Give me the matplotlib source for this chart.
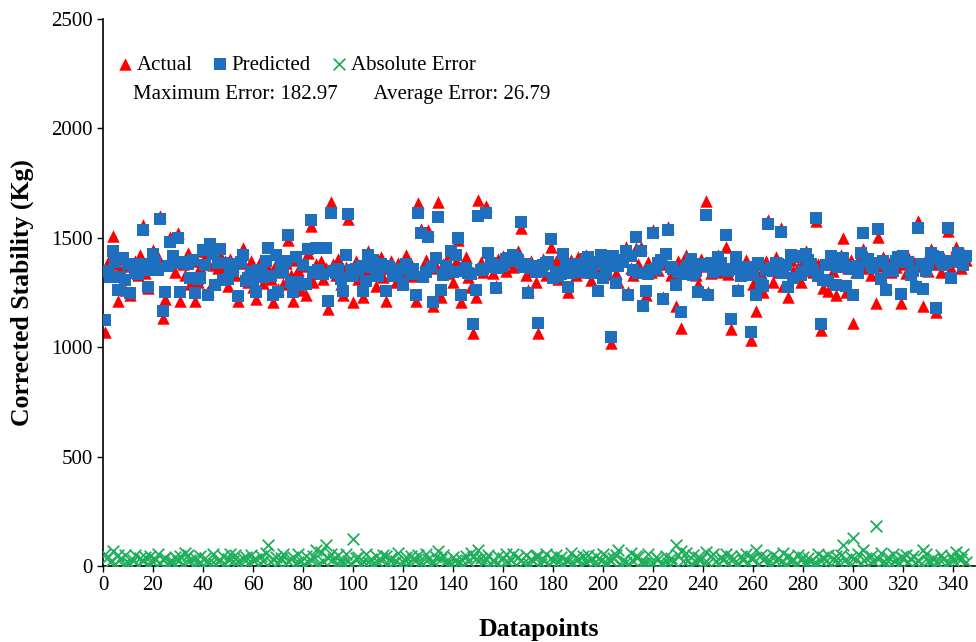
import matplotlib
matplotlib.use("Agg")
import matplotlib.pyplot as plt
import numpy as np

plt.rcParams['font.family'] = ['Liberation Serif', 'DejaVu Serif']

# Datapoint index 1..345
actual = [
    1070, 1390, 1340, 1510, 1380, 1210, 1355, 1405, 1260, 1370,
    1240, 1345, 1395, 1330, 1420, 1560, 1340, 1270, 1400, 1445,
    1360, 1410, 1600, 1135, 1218, 1375, 1505, 1400, 1345, 1520,
    1210, 1380, 1330, 1430, 1290, 1395, 1210, 1300, 1365, 1440,
    1410, 1255, 1465, 1375, 1290, 1360, 1420, 1350, 1395, 1280, 1405,
    1370, 1330, 1210, 1385, 1455, 1340, 1300, 1395, 1275, 1220,
    1350, 1400, 1295, 1335, 1360, 1310, 1208, 1380, 1265, 1345,
    1290, 1385, 1490, 1330, 1210, 1400, 1355, 1260, 1370, 1240,
    1430, 1555, 1300, 1380, 1345, 1395, 1310, 1360, 1175, 1665,
    1380, 1330, 1405, 1290, 1240, 1365, 1585, 1345, 1205, 1395,
    1310, 1370, 1230, 1355, 1440, 1335, 1390, 1280, 1345, 1410,
    1320, 1211, 1365, 1395, 1340, 1300, 1385, 1355, 1300, 1420,
    1345, 1380, 1325, 1211, 1660, 1540, 1330, 1400, 1535, 1360,
    1190, 1370, 1665, 1230, 1380, 1395, 1340, 1430, 1300, 1395, 1490,
    1208, 1355, 1410, 1320, 1275, 1065, 1230, 1675, 1390, 1345,
    1645, 1380, 1395, 1340, 1280, 1405, 1370, 1415, 1350, 1390,
    1420, 1365, 1400, 1440, 1545, 1380, 1330, 1260, 1395, 1350,
    1300, 1065, 1360, 1405, 1330, 1385, 1460, 1340, 1395, 1310,
    1375, 1420, 1350, 1250, 1400, 1365, 1330, 1410, 1345, 1390,
    1420, 1360, 1305, 1385, 1345, 1262, 1395, 1370, 1335, 1410,
    1020, 1380, 1340, 1300, 1395, 1420, 1457, 1250, 1360, 1330,
    1455, 1380, 1460, 1200, 1240, 1390, 1345, 1535, 1400, 1355,
    1410, 1230, 1380, 1550, 1330, 1340, 1188, 1395, 1090, 1360, 1420,
    1345, 1400, 1380, 1330, 1290, 1405, 1370, 1668, 1250, 1340,
    1395, 1360, 1420, 1345, 1380, 1460, 1335, 1085, 1390, 1410,
    1265, 1370, 1340, 1400, 1355, 1035, 1290, 1165, 1380, 1340,
    1250, 1395, 1580, 1360, 1300, 1410, 1345, 1545, 1280, 1385,
    1230, 1400, 1350, 1420, 1365, 1300, 1390, 1440, 1360, 1405,
    1345, 1575, 1380, 1080, 1270, 1395, 1255, 1410, 1350, 1240,
    1385, 1420, 1500, 1250, 1360, 1400, 1110, 1345, 1395, 1420,
    1450, 1360, 1400, 1330, 1385, 1200, 1505, 1370, 1410, 1275,
    1390, 1345, 1400, 1365, 1420, 1200, 1380, 1340, 1410, 1360,
    1395, 1290, 1575, 1370, 1190, 1405, 1350, 1450, 1380, 1160,
    1400, 1345, 1410, 1385, 1530, 1360, 1420, 1460, 1395, 1360,
    1430, 1400,
]

predicted = [
    1125, 1348, 1320, 1440, 1388, 1260, 1322, 1408, 1308, 1382,
    1248, 1372, 1343, 1335, 1382, 1535, 1380, 1277, 1355, 1427,
    1390, 1355, 1585, 1165, 1254, 1371, 1482, 1417, 1386, 1499,
    1254, 1391, 1388, 1380, 1316, 1397, 1248, 1310, 1318, 1445,
    1375, 1240, 1470, 1428, 1283, 1385, 1449, 1306, 1386, 1310, 1348,
    1348, 1379, 1233, 1391, 1420, 1301, 1314, 1344, 1303, 1250,
    1353, 1354, 1320, 1395, 1455, 1327, 1240, 1421, 1253, 1382,
    1343, 1393, 1512, 1296, 1250, 1413, 1299, 1285, 1374, 1287,
    1450, 1582, 1344, 1455, 1355, 1333, 1335, 1455, 1210, 1612,
    1349, 1339, 1357, 1310, 1255, 1422, 1607, 1351, 1327, 1357,
    1352, 1373, 1255, 1301, 1420, 1368, 1400, 1326, 1327, 1381,
    1371, 1255, 1372, 1359, 1327, 1324, 1326, 1359, 1283, 1380,
    1357, 1335, 1356, 1240, 1612, 1523, 1320, 1345, 1505, 1366,
    1207, 1409, 1597, 1260, 1328, 1372, 1348, 1440, 1343, 1421, 1500,
    1240, 1350, 1363, 1341, 1333, 1108, 1260, 1600, 1354, 1359,
    1612, 1430, 1386, 1367, 1270, 1361, 1372, 1377, 1403, 1409,
    1392, 1421, 1406, 1399, 1572, 1365, 1379, 1248, 1361, 1372,
    1345, 1112, 1349, 1375, 1387, 1389, 1495, 1316, 1345, 1326,
    1336, 1428, 1376, 1275, 1340, 1378, 1372, 1379, 1350, 1343,
    1402, 1412, 1338, 1376, 1389, 1255, 1422, 1315, 1349, 1372,
    1045, 1416, 1292, 1372, 1398, 1391, 1440, 1240, 1418, 1351,
    1502, 1340, 1440, 1187, 1255, 1336, 1351, 1520, 1357, 1387,
    1399, 1220, 1426, 1536, 1367, 1358, 1282, 1343, 1160, 1336, 1359,
    1373, 1405, 1331, 1348, 1250, 1371, 1379, 1605, 1238, 1385,
    1342, 1382, 1412, 1384, 1353, 1515, 1350, 1130, 1359, 1414,
    1255, 1326, 1366, 1343, 1368, 1070, 1328, 1237, 1386, 1292,
    1279, 1354, 1565, 1363, 1350, 1386, 1381, 1528, 1338, 1374,
    1276, 1420, 1317, 1413, 1417, 1328, 1347, 1426, 1397, 1380,
    1354, 1590, 1324, 1105, 1309, 1374, 1303, 1415, 1381, 1284,
    1368, 1368, 1406, 1280, 1368, 1359, 1240, 1371, 1340, 1432,
    1522, 1395, 1404, 1377, 1362, 1382.97, 1539, 1312, 1394, 1262,
    1350, 1356, 1347, 1392, 1414, 1243, 1416, 1389, 1390, 1329,
    1350, 1277, 1546, 1378, 1265, 1348, 1374, 1430, 1418, 1180,
    1414, 1396, 1377, 1387, 1546, 1316, 1392, 1396, 1432, 1390,
    1375, 1419,
]

abs_error = [
    55, 42, 20, 70, 8, 50, 33, 3, 48, 12,
    8, 27, 52, 5, 38, 25, 40, 7, 45, 18,
    30, 55, 15, 30, 36, 4, 23, 17, 41, 21,
    44, 11, 58, 50, 26, 2, 38, 10, 47, 5,
    35, 15, 5, 53, 7, 25, 29, 44, 9, 30, 57,
    22, 49, 23, 6, 35, 39, 14, 51, 28, 30,
    3, 46, 25, 60, 95, 17, 32, 41, 12, 37,
    53, 8, 22, 34, 40, 13, 56, 25, 4, 47,
    20, 27, 44, 75, 10, 62, 25, 95, 35, 53,
    31, 9, 48, 20, 15, 57, 22, 6, 122, 38,
    42, 3, 25, 54, 20, 33, 10, 46, 18, 29,
    51, 44, 7, 36, 13, 24, 59, 4, 17, 40,
    12, 45, 31, 29, 48, 17, 10, 55, 30, 6,
    17, 39, 68, 30, 52, 23, 8, 10, 43, 26, 10,
    32, 5, 47, 21, 58, 43, 30, 75, 36, 14,
    33, 50, 9, 27, 10, 44, 2, 38, 53, 19,
    28, 56, 6, 41, 27, 15, 49, 12, 34, 22,
    45, 47, 11, 30, 57, 4, 35, 24, 50, 16,
    39, 8, 26, 25, 60, 13, 42, 31, 5, 47,
    18, 52, 33, 9, 44, 7, 27, 55, 14, 38,
    25, 36, 48, 72, 3, 29, 17, 10, 58, 21,
    47, 40, 20, 13, 15, 54, 6, 15, 43, 32,
    11, 10, 46, 14, 37, 18, 94, 52, 70, 24, 61,
    28, 5, 49, 18, 40, 34, 9, 63, 12, 45,
    53, 22, 8, 39, 27, 55, 15, 45, 31, 4,
    10, 44, 26, 57, 13, 35, 38, 72, 6, 48,
    29, 41, 15, 3, 50, 24, 36, 17, 58, 11,
    46, 20, 33, 7, 52, 28, 43, 14, 37, 25,
    9, 15, 56, 25, 39, 21, 48, 5, 31, 44,
    17, 52, 94, 30, 8, 41, 130, 26, 55, 12,
    72, 35, 4, 47, 23, 182.97, 34, 58, 16, 13,
    40, 11, 53, 27, 6, 43, 36, 49, 20, 31,
    45, 13, 29, 8, 75, 57, 24, 20, 38, 20,
    14, 51, 33, 2, 16, 44, 28, 64, 37, 30,
    55, 19,
]

x_ticks = list(range(0, 341, 20))
y_ticks = [0, 500, 1000, 1500, 2000, 2500]

idx = np.arange(1, len(actual) + 1)

fig = plt.figure(figsize=(9.76, 6.42), dpi=100)
ax = fig.add_axes([0.1055, 0.1184, 0.8934, 0.852])

RED = '#FF0000'
BLUE = '#1F6FBF'
GREEN = '#1DAF5A'

ax.scatter(idx, actual, marker='^', s=80, color=RED, linewidths=0, zorder=2, label='Actual')
ax.scatter(idx, predicted, marker='s', s=70, color=BLUE, linewidths=0, zorder=3, label='Predicted')
ax.scatter(idx, abs_error, marker='x', s=70, color=GREEN, linewidths=1.3, zorder=4, label='Absolute Error')

ax.set_xlim(0, 348.7)
ax.set_ylim(0, 2500)
ax.set_xticks(x_ticks)
ax.set_yticks(y_ticks)
ax.tick_params(axis='both', labelsize=15, direction='out', length=4, width=1)
ax.tick_params(axis='x', pad=3)
for s in ['top', 'right']:
    ax.spines[s].set_visible(False)
for s in ['left', 'bottom']:
    ax.spines[s].set_linewidth(1.2)

ax.set_xlabel('Datapoints', fontsize=18.5, fontweight='bold', labelpad=17)
ax.set_ylabel('Corrected Stability (Kg)', fontsize=18.5, fontweight='bold', labelpad=12)

leg = ax.legend(loc='upper left', bbox_to_anchor=(0.0, 0.953), ncol=3, frameon=False,
                fontsize=15, handletextpad=0.0, columnspacing=0.8, borderaxespad=0.1,
                markerscale=1.0, handlelength=1.1)
ax.text(0.034, 0.862, 'Maximum Error: 182.97       Average Error: 26.79', transform=ax.transAxes,
        fontsize=15, ha='left', va='center')

fig.savefig('out.png', dpi=100)
